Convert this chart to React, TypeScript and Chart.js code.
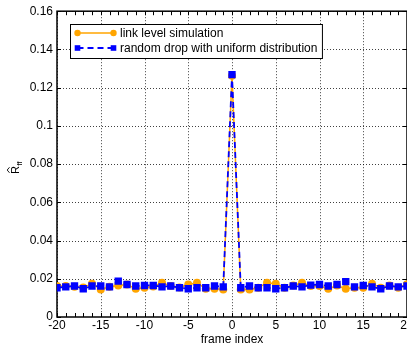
import React, { useEffect, useRef } from "react";
import { Chart, registerables } from "chart.js";

Chart.register(...registerables);

const frameIndex = [
  -20, -19, -18, -17, -16, -15, -14, -13, -12, -11, -10, -9, -8, -7, -6, -5, -4, -3, -2, -1,
  0, 1, 2, 3, 4, 5, 6, 7, 8, 9, 10, 11, 12, 13, 14, 15, 16, 17, 18, 19, 20,
];

const linkLevel = [
  0.0162, 0.0162, 0.0158, 0.0155, 0.0174, 0.0144, 0.0158, 0.0165, 0.017, 0.0148,
  0.0153, 0.016, 0.0179, 0.0162, 0.0155, 0.017, 0.0179, 0.0148, 0.0148, 0.0144,
  0.1262,
  0.0144, 0.0144, 0.0153, 0.0179, 0.0174, 0.0153, 0.0165, 0.0179, 0.0162, 0.0162,
  0.0148, 0.0165, 0.0148, 0.0153, 0.0153, 0.0174, 0.0153, 0.0165, 0.0153, 0.0171,
];

const randomDrop = [
  0.0153, 0.0158, 0.0162, 0.0148, 0.0162, 0.0162, 0.0158, 0.0188, 0.017, 0.0162,
  0.0165, 0.0165, 0.0158, 0.0162, 0.0153, 0.0148, 0.0153, 0.0153, 0.0162, 0.0158,
  0.1268,
  0.0153, 0.0162, 0.0153, 0.0153, 0.0148, 0.0153, 0.0162, 0.0158, 0.0167, 0.017,
  0.0162, 0.017, 0.0185, 0.0158, 0.0165, 0.0158, 0.0148, 0.0162, 0.0158, 0.0162,
];

const seriesLabels = ["link level simulation", "random drop with uniform distribution"];
const xTitle = "frame index";
const yTitleMain = "R";
const yTitleSub = "ff";

const ORANGE = "#FFA500";
const BLUE = "#0000FF";
const FONT = "Arial, 'Liberation Sans', Helvetica, sans-serif";
const W = 440;
const H = 348;

const matlabPlugin = {
  id: "matlabAxes",
  beforeDatasetsDraw(chart: any) {
    const { ctx, chartArea: a, scales } = chart;
    const xs = scales.x;
    const ys = scales.y;
    ctx.save();
    ctx.beginPath();
    ctx.rect(a.left, a.top, a.right - a.left, a.bottom - a.top);
    ctx.clip();
    ctx.setLineDash([1, 2]);
    ctx.strokeStyle = "rgba(0,0,0,0.75)";
    ctx.lineWidth = 1;
    xs.ticks.forEach((t: any) => {
      const px = Math.round(xs.getPixelForValue(t.value)) + 0.5;
      ctx.beginPath();
      ctx.moveTo(px, a.top);
      ctx.lineTo(px, a.bottom);
      ctx.stroke();
    });
    ys.ticks.forEach((t: any) => {
      const py = Math.round(ys.getPixelForValue(t.value)) + 0.5;
      ctx.beginPath();
      ctx.moveTo(a.left, py);
      ctx.lineTo(a.right, py);
      ctx.stroke();
    });
    ctx.restore();

    ctx.save();
    ctx.setLineDash([]);
    ctx.strokeStyle = "#000";
    ctx.lineWidth = 1.5;
    ctx.strokeRect(a.left, a.top, a.right - a.left, a.bottom - a.top);
    ctx.lineWidth = 1;
    for (let v = xs.min; v <= xs.max; v += 1) {
      const px = Math.round(xs.getPixelForValue(v)) + 0.5;
      ctx.beginPath();
      ctx.moveTo(px, a.top);
      ctx.lineTo(px, a.top + 4);
      ctx.moveTo(px, a.bottom);
      ctx.lineTo(px, a.bottom - 4);
      ctx.stroke();
    }
    ys.ticks.forEach((t: any) => {
      const py = Math.round(ys.getPixelForValue(t.value)) + 0.5;
      ctx.beginPath();
      ctx.moveTo(a.left, py);
      ctx.lineTo(a.left + 4, py);
      ctx.moveTo(a.right, py);
      ctx.lineTo(a.right - 4, py);
      ctx.stroke();
    });
    ctx.restore();
  },
  afterDraw(chart: any) {
    const { ctx, chartArea: a } = chart;
    ctx.save();
    // x title
    ctx.fillStyle = "#000";
    ctx.font = `12px ${FONT}`;
    ctx.textAlign = "center";
    ctx.textBaseline = "alphabetic";
    ctx.fillText(xTitle, (a.left + a.right) / 2, 343);

    // y title: R-hat with subscript ff, rotated
    ctx.save();
    ctx.translate(19, 174);
    ctx.rotate(-Math.PI / 2);
    ctx.textAlign = "left";
    ctx.font = `11px ${FONT}`;
    ctx.fillText(yTitleMain, 0, 0);
    const rw = ctx.measureText(yTitleMain).width;
    ctx.strokeStyle = "#000";
    ctx.lineWidth = 0.9;
    ctx.beginPath();
    ctx.moveTo(1.2, -9.5);
    ctx.lineTo(rw / 2, -11.8);
    ctx.lineTo(rw - 1.2, -9.5);
    ctx.stroke();
    ctx.font = `8px ${FONT}`;
    ctx.fillText(yTitleSub, rw + 0.3, 2.5);
    ctx.restore();

    // legend
    ctx.font = `12px ${FONT}`;
    const tw = Math.max(...seriesLabels.map((s) => ctx.measureText(s).width));
    const bx = 70.5;
    const by = 24.5;
    const textX = 120;
    const bw = textX - bx + tw + 5;
    const bh = 34;
    ctx.fillStyle = "#fff";
    ctx.fillRect(bx, by, bw, bh);
    ctx.strokeStyle = "#000";
    ctx.lineWidth = 1;
    ctx.strokeRect(bx, by, bw, bh);

    const x0 = 77.5;
    const x1 = 113.5;
    const r1 = 33;
    const r2 = 48;
    // row 1
    ctx.strokeStyle = ORANGE;
    ctx.lineWidth = 1.5;
    ctx.beginPath();
    ctx.moveTo(x0, r1);
    ctx.lineTo(x1, r1);
    ctx.stroke();
    ctx.fillStyle = ORANGE;
    [x0, x1].forEach((px) => {
      ctx.beginPath();
      ctx.arc(px, r1, 3.2, 0, Math.PI * 2);
      ctx.fill();
    });
    // row 2
    ctx.strokeStyle = BLUE;
    ctx.lineWidth = 1.8;
    ctx.setLineDash([6, 4]);
    ctx.beginPath();
    ctx.moveTo(x0, r2);
    ctx.lineTo(x1, r2);
    ctx.stroke();
    ctx.setLineDash([]);
    ctx.fillStyle = BLUE;
    [x0, x1].forEach((px) => {
      ctx.fillRect(px - 2.8, r2 - 2.8, 5.6, 5.6);
    });

    ctx.fillStyle = "#000";
    ctx.textAlign = "left";
    ctx.textBaseline = "middle";
    ctx.fillText(seriesLabels[0], textX, r1 + 0.5);
    ctx.fillText(seriesLabels[1], textX, r2 + 0.5);
    ctx.restore();
  },
};

export default function App() {
  const ref = useRef<HTMLCanvasElement | null>(null);

  useEffect(() => {
    if (!ref.current) return;
    const chart = new Chart(ref.current, {
      type: "line",
      data: {
        datasets: [
          {
            label: seriesLabels[0],
            data: frameIndex.map((x, i) => ({ x, y: linkLevel[i] })),
            borderColor: ORANGE,
            backgroundColor: ORANGE,
            borderWidth: 1.5,
            pointStyle: "circle",
            pointRadius: 4,
            pointBorderWidth: 0,
            order: 1,
          },
          {
            label: seriesLabels[1],
            data: frameIndex.map((x, i) => ({ x, y: randomDrop[i] })),
            borderColor: BLUE,
            backgroundColor: BLUE,
            borderWidth: 1.8,
            borderDash: [6, 4],
            pointStyle: "rect",
            pointRadius: 5.2,
            pointBorderWidth: 0,
            order: 0,
          },
        ],
      },
      options: {
        responsive: false,
        animation: false,
        events: [],
        layout: { padding: { top: 10, right: W - 407, left: 0, bottom: 0 } },
        plugins: { legend: { display: false }, tooltip: { enabled: false } },
        elements: { line: { tension: 0 } },
        scales: {
          x: {
            type: "linear",
            min: -20,
            max: 20,
            afterFit: (s: any) => {
              s.height = 31;
            },
            grid: { display: false, drawTicks: false },
            border: { display: false },
            ticks: {
              stepSize: 5,
              autoSkip: false,
              maxRotation: 0,
              padding: 1,
              color: "#000",
              font: { family: FONT, size: 12 },
            },
          },
          y: {
            type: "linear",
            min: 0,
            max: 0.16,
            afterFit: (s: any) => {
              s.width = 57;
            },
            grid: { display: false, drawTicks: false },
            border: { display: false },
            ticks: {
              stepSize: 0.02,
              autoSkip: false,
              padding: 4,
              color: "#000",
              font: { family: FONT, size: 12 },
              callback: (v: any) => String(Number(Number(v).toFixed(2))),
            },
          },
        },
      },
      plugins: [matlabPlugin],
    } as any);
    return () => chart.destroy();
  }, []);

  return (
    <div style={{ position: "fixed", left: 0, top: 0, width: W, height: H, background: "#fff" }}>
      <canvas ref={ref} width={W} height={H} style={{ width: W, height: H, display: "block" }} />
    </div>
  );
}
